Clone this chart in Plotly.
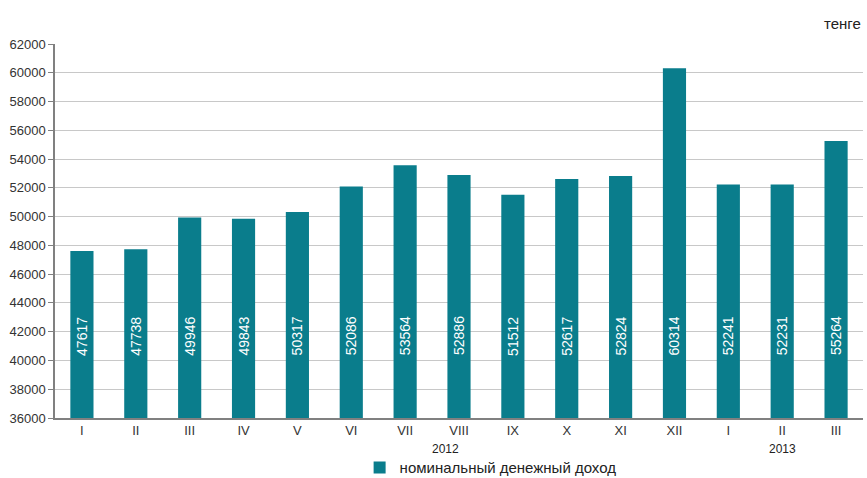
import plotly.graph_objects as go

months = ["I", "II", "III", "IV", "V", "VI", "VII", "VIII", "IX", "X", "XI", "XII", "I", "II", "III"]
income = [47617, 47738, 49946, 49843, 50317, 52086, 53564, 52886, 51512, 52617, 52824, 60314, 52241, 52231, 55264]
years = ["2012", "2013"]
year_pos = [6.75, 13]
series_name = "номинальный денежный доход"
unit = "тенге"
y_ticks = list(range(36000, 62001, 2000))

BAR = "#0a7d8c"
FONT = "Liberation Sans, Arial, sans-serif"
idx = list(range(len(months)))

fig = go.Figure()
fig.add_trace(go.Bar(
    x=idx, y=income, name=series_name,
    marker=dict(color=BAR, line=dict(width=0)),
    width=0.43, showlegend=True,
))

annotations = []
label_level = 41700
for i, v in zip(idx, income):
    annotations.append(dict(
        x=i, y=label_level, xref="x", yref="y", text=str(v), textangle=-90,
        showarrow=False, font=dict(family=FONT, size=14, color="white"),
    ))
for yr, p in zip(years, year_pos):
    annotations.append(dict(
        x=p, y=-0.083, xref="x", yref="paper", text=yr, showarrow=False,
        font=dict(family=FONT, size=12, color="#222"), yanchor="middle",
    ))
annotations.append(dict(
    x=1, y=1.027, xref="paper", yref="paper", text=unit, showarrow=False,
    xanchor="right", yanchor="bottom", font=dict(family=FONT, size=15, color="#222"),
))

fig.update_layout(
    width=867, height=478,
    margin=dict(l=55, r=4, t=44, b=60, autoexpand=False),
    plot_bgcolor="white", paper_bgcolor="white",
    font=dict(family=FONT, size=13, color="#333"),
    showlegend=True,
    legend=dict(orientation="h", x=0.377, xanchor="left", y=-0.089, yanchor="top",
                font=dict(family=FONT, size=15, color="#222"), bgcolor="rgba(0,0,0,0)"),
    annotations=annotations,
    xaxis=dict(
        tickmode="array", tickvals=idx, ticktext=months, range=[-0.5, len(months) - 0.5],
        showgrid=False, showline=True, linecolor="#808080", linewidth=1.5,
        ticks="", tickfont=dict(family=FONT, size=13, color="#333"), zeroline=False,
        automargin=False,
    ),
    yaxis=dict(
        range=[36000, 62000], tickmode="array", tickvals=y_ticks,
        ticktext=[str(t) for t in y_ticks],
        showgrid=True, gridcolor="#c8c8c8", gridwidth=1,
        showline=True, linecolor="#808080", linewidth=1.5,
        ticks="outside", ticklen=5, tickcolor="#808080",
        tickfont=dict(family=FONT, size=13, color="#333"), zeroline=False,
        automargin=False,
    ),
    bargap=0.57,
)

fig.write_html(
    "out.html",
    config={"displayModeBar": False},
    post_script="document.body.style.margin='0';document.body.style.overflow='hidden';",
)
